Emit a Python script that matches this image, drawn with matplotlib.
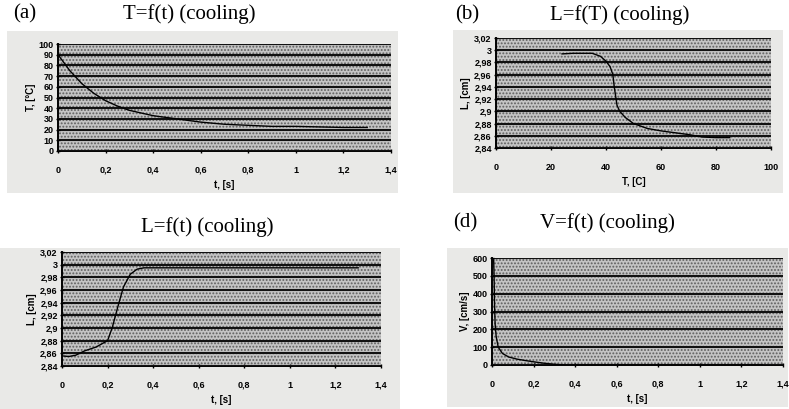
import numpy as np
import matplotlib.pyplot as plt
from matplotlib.patches import Rectangle
from matplotlib.ticker import FuncFormatter

plt.rcParams['font.family'] = ['Liberation Sans', 'DejaVu Sans']
plt.rcParams['hatch.color'] = '#5e5e5e'
plt.rcParams['hatch.linewidth'] = 0.9

# (a) T=f(t)
t_a = [0, 0.05, 0.1, 0.15, 0.2, 0.25, 0.3, 0.4, 0.5, 0.6, 0.7, 0.8, 0.9, 1.0, 1.1, 1.2, 1.3]
T_a = [90, 75, 63, 54, 47, 42, 38, 33, 30, 27, 25, 24, 23, 23, 22.5, 22, 22]

# (b) L=f(T)
T_b = [24, 28, 32, 35, 38, 40, 41.5, 42.5, 43, 43.5, 44, 45, 47, 50, 55, 60, 65, 70, 75, 80, 85]
L_b = [2.994, 2.995, 2.995, 2.995, 2.99, 2.982, 2.973, 2.96, 2.94, 2.925, 2.91, 2.9, 2.89, 2.88,
       2.872, 2.868, 2.865, 2.862, 2.858, 2.857, 2.857]

# (c) L=f(t)
t_c = [0, 0.03, 0.06, 0.1, 0.15, 0.2, 0.22, 0.25, 0.27, 0.3, 0.33, 0.36, 0.4, 0.6, 0.8, 1.0, 1.2, 1.3]
L_c = [2.856, 2.855, 2.857, 2.864, 2.87, 2.88, 2.9, 2.94, 2.965, 2.985, 2.993, 2.995, 2.995,
       2.995, 2.995, 2.995, 2.995, 2.995]

# (d) V=f(t)
t_d = [0.008, 0.01, 0.012, 0.015, 0.02, 0.03, 0.05, 0.08, 0.12, 0.16, 0.2, 0.25, 0.3, 0.35, 1.3]
V_d = [590, 500, 350, 230, 160, 100, 65, 45, 33, 25, 18, 10, 4, 0, 0]

W, H = 789, 409
fig = plt.figure(figsize=(W / 100, H / 100), dpi=100)


def fig_rect(l, t, r, b):
    fig.patches.append(Rectangle((l / W, 1 - b / H), (r - l) / W, (b - t) / H,
                                 transform=fig.transFigure, facecolor='#e9e9e7',
                                 edgecolor='none', zorder=-10))


def px_axes(l, t, r, b):
    return fig.add_axes([l / W, 1 - b / H, (r - l) / W, (b - t) / H])


comma = FuncFormatter(lambda v, p: ('%g' % round(v, 4)).replace('.', ','))


def style(ax, xlim, xstep, ylim, ystep, xlabel, ylabel):
    ax.patch.set_alpha(0)
    ax.add_patch(Rectangle((0, 0), 1, 1, transform=ax.transAxes, facecolor='#c4c4c4',
                           edgecolor='#5e5e5e', hatch='.....', linewidth=0, zorder=0))
    ax.set_xlim(*xlim)
    ax.set_ylim(*ylim)
    ax.set_xticks(np.arange(xlim[0], xlim[1] + xstep / 2, xstep))
    ax.set_yticks(np.arange(ylim[0], ylim[1] + ystep / 2, ystep))
    ax.xaxis.set_major_formatter(comma)
    ax.yaxis.set_major_formatter(comma)
    ax.grid(axis='y', color='#111111', linewidth=1.5, zorder=1)
    ax.set_axisbelow(False)
    for s in ['top', 'right']:
        ax.spines[s].set_visible(False)
    for s in ['left', 'bottom']:
        ax.spines[s].set_linewidth(1.4)
    ax.tick_params(labelsize=6.5, length=3, width=1, direction='inout', pad=9)
    ax.tick_params(axis='y', pad=1.5)
    for lab in ax.get_xticklabels() + ax.get_yticklabels():
        lab.set_fontweight('bold')
    ax.set_xlabel(xlabel, fontsize=7, fontweight='bold', labelpad=4)
    ax.set_ylabel(ylabel, fontsize=7, fontweight='bold', labelpad=2)


title_kw = dict(fontsize=15, family='Liberation Serif', va='center')

# panel backgrounds
fig_rect(7, 31, 398, 193)
fig_rect(453, 30, 783, 193)
fig_rect(0, 248, 400, 409)
fig_rect(447, 248, 788, 407)

ax = px_axes(58, 44, 391, 151)
ax.plot(t_a, T_a, color='black', linewidth=1, zorder=3)
style(ax, (0, 1.4), 0.2, (0, 100), 10, 't, [s]', 'T, [°C]')

ax = px_axes(496, 38, 771, 148)
ax.plot(T_b, L_b, color='black', linewidth=1, zorder=3)
style(ax, (0, 100), 20, (2.84, 3.02), 0.02, 'T, [C]', 'L, [cm]')

ax = px_axes(62, 252, 381, 366)
ax.plot(t_c, L_c, color='black', linewidth=1, zorder=3)
style(ax, (0, 1.4), 0.2, (2.84, 3.02), 0.02, 't, [s]', 'L, [cm]')

ax = px_axes(492, 258, 783, 365)
ax.plot(t_d, V_d, color='black', linewidth=1, zorder=3)
style(ax, (0, 1.4), 0.2, (0, 600), 100, 't, [s]', 'V, [cm/s]')

fig.text(13 / W, 1 - 14 / H, '(a)', ha='left', **title_kw)
fig.text(189 / W, 1 - 14 / H, 'T=f(t) (cooling)', ha='center', **title_kw)
fig.text(455 / W, 1 - 15 / H, '(b)', ha='left', **title_kw)
fig.text(620 / W, 1 - 15 / H, 'L=f(T) (cooling)', ha='center', **title_kw)
fig.text(207 / W, 1 - 227 / H, 'L=f(t) (cooling)', ha='center', **title_kw)
fig.text(453 / W, 1 - 223 / H, '(d)', ha='left', **title_kw)
fig.text(607 / W, 1 - 223 / H, 'V=f(t) (cooling)', ha='center', **title_kw)

fig.savefig('out.png', dpi=100)
